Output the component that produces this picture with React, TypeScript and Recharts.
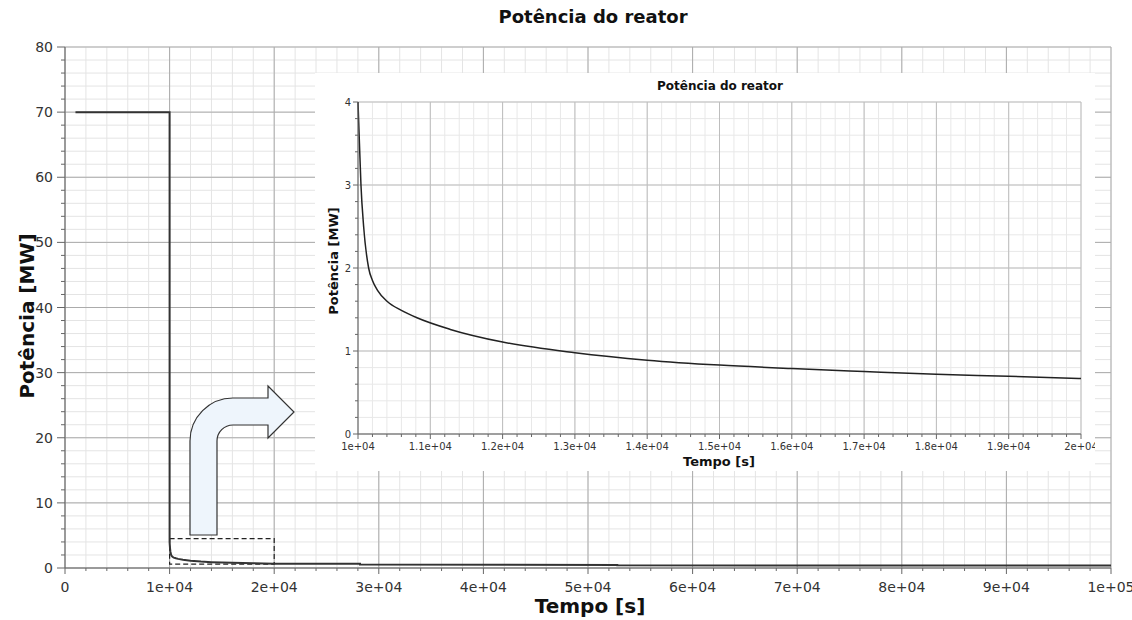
import {
  LineChart,
  Line,
  XAxis,
  YAxis,
  CartesianGrid,
  ReferenceArea,
} from 'recharts'

// decay after the scram (s, MW)
const decayTime = [
  10000, 10020, 10041, 10078, 10147, 10200, 10270, 10401, 10600, 10816,
  11277, 12000, 13000, 14000, 15000, 16000, 17000, 18000, 19000, 20000,
]
const decayPower = [
  4.0, 3.5, 3.0, 2.5, 2.0, 1.85, 1.73, 1.6, 1.49, 1.4,
  1.26, 1.108, 0.98, 0.89, 0.83, 0.788, 0.753, 0.72, 0.696, 0.668,
]

// full-power plateau before and slow tail after
const headTime = [1000, 10000]
const headPower = [70, 70]
const tailTime = [28200, 28200, 52800, 52800, 100000]
const tailPower = [0.64, 0.52, 0.47, 0.41, 0.38]

const mainXTicks = [0, 10000, 20000, 30000, 40000, 50000, 60000, 70000, 80000, 90000, 100000]
const mainYTicks = [0, 10, 20, 30, 40, 50, 60, 70, 80]
const insetXTicks = [10000, 11000, 12000, 13000, 14000, 15000, 16000, 17000, 18000, 19000, 20000]
const insetYTicks = [0, 1, 2, 3, 4]

const zoomBox = { x1: 10000, x2: 20000, y1: 0.6, y2: 4.5 }

const steps = (from: number, to: number, step: number) =>
  Array.from({ length: Math.round((to - from) / step) + 1 }, (_, i) => +(from + i * step).toFixed(4))

const mainXMinor = steps(0, 100000, 2000)
const mainYMinor = steps(0, 80, 2)
const insetXMinor = steps(10000, 20000, 200)
const insetYMinor = steps(0, 4, 0.2)

const mainData = [
  ...headTime.map((t, i) => ({ t, p: headPower[i] })),
  ...decayTime.map((t, i) => ({ t, p: decayPower[i] })),
  ...tailTime.map((t, i) => ({ t, p: tailPower[i] })),
]
const insetData = decayTime.map((t, i) => ({ t, p: decayPower[i] }))

const sci = (v: number) => {
  if (v === 0) return '0'
  const e = Math.floor(Math.log10(v) + 1e-9)
  const m = +(v / 10 ** e).toFixed(2)
  return `${m}e+${String(e).padStart(2, '0')}`
}

const near = (v: number, list: number[]) => list.some((m) => Math.abs(m - v) < 1e-6)

const axisColor = '#666'
const textColor = '#333'

function makeXTick(major: number[], big: number, small: number, fontSize: number, dy: number) {
  return (props: any) => {
    const { x, y, payload } = props
    const isMajor = near(payload.value, major)
    return (
      <g>
        <line x1={x} x2={x} y1={y} y2={y + (isMajor ? big : small)} stroke={axisColor} />
        {isMajor && (
          <text x={x} y={y + dy} textAnchor="middle" fontSize={fontSize} fill={textColor}>
            {sci(payload.value)}
          </text>
        )}
      </g>
    )
  }
}

function makeYTick(major: number[], big: number, small: number, fontSize: number, gap: number) {
  return (props: any) => {
    const { x, y, payload } = props
    const isMajor = near(payload.value, major)
    return (
      <g>
        <line x1={x - (isMajor ? big : small)} x2={x} y1={y} y2={y} stroke={axisColor} />
        {isMajor && (
          <text x={x - gap} y={y + fontSize * 0.36} textAnchor="end" fontSize={fontSize} fill={textColor}>
            {payload.value}
          </text>
        )}
      </g>
    )
  }
}

export default function App() {
  return (
    <div
      style={{
        position: 'relative',
        width: 1132,
        height: 620,
        background: '#fff',
        fontFamily: '"DejaVu Sans", sans-serif',
        color: '#111',
      }}
    >
      <style>{'body{margin:0}'}</style>

      <LineChart width={1132} height={620} data={mainData} margin={{ top: 47, right: 21, left: 0, bottom: 0 }}>
        <CartesianGrid stroke="#e4e4e4" verticalValues={mainXMinor} horizontalValues={mainYMinor} />
        <CartesianGrid stroke="#ababab" verticalValues={mainXTicks} horizontalValues={mainYTicks} />
        <XAxis
          dataKey="t"
          type="number"
          domain={[0, 100000]}
          ticks={mainXMinor}
          interval={0}
          height={52}
          tickSize={0}
          tickMargin={0}
          tickLine={false}
          stroke={axisColor}
          tick={makeXTick(mainXTicks, 6, 3, 14, 24)}
        />
        <YAxis
          type="number"
          domain={[0, 80]}
          ticks={mainYMinor}
          interval={0}
          width={65}
          tickSize={0}
          tickMargin={0}
          tickLine={false}
          stroke={axisColor}
          tick={makeYTick(mainYTicks, 8, 4, 14, 12)}
        />
        <ReferenceArea
          {...zoomBox}
          fill="none"
          stroke="#222"
          strokeWidth={1.2}
          strokeDasharray="5 3"
          ifOverflow="visible"
        />
        <Line
          type="linear"
          dataKey="p"
          stroke="#333"
          strokeWidth={2}
          dot={false}
          isAnimationActive={false}
        />
      </LineChart>

      {/* bent arrow pointing at the zoomed view */}
      <svg width={1132} height={620} style={{ position: 'absolute', left: 0, top: 0, pointerEvents: 'none' }}>
        <path
          d="M190,535 L190,441 A43,43 0 0 1 233,398 L268,398 L268,386 L294,412 L268,438 L268,425 L233,425 A16,16 0 0 0 217,441 L217,535 Z"
          fill="#eef5fc"
          stroke="#333"
          strokeWidth={1.2}
        />
      </svg>

      <div style={{ position: 'absolute', left: 393, top: 6, width: 400, textAlign: 'center', fontSize: 18, fontWeight: 700, lineHeight: 1.2 }}>
        Potência do reator
      </div>
      <div style={{ position: 'absolute', left: 390, top: 596, width: 400, textAlign: 'center', fontSize: 20, fontWeight: 700, lineHeight: 1 }}>
        Tempo [s]
      </div>
      <div
        style={{
          position: 'absolute',
          left: 27,
          top: 316,
          transform: 'translate(-50%, -50%) rotate(-90deg)',
          whiteSpace: 'nowrap',
          fontSize: 20,
          fontWeight: 700,
          lineHeight: 1,
        }}
      >
        Potência [MW]
      </div>

      {/* inset */}
      <div style={{ position: 'absolute', left: 315, top: 73, width: 780, height: 398, background: '#fff' }}>
        <LineChart width={780} height={398} data={insetData} margin={{ top: 29, right: 14, left: 0, bottom: 0 }}>
          <CartesianGrid stroke="#e8e8e8" verticalValues={insetXMinor} horizontalValues={insetYMinor} />
          <CartesianGrid stroke="#bdbdbd" verticalValues={insetXTicks} horizontalValues={insetYTicks} />
          <XAxis
            dataKey="t"
            type="number"
            domain={[10000, 20000]}
            ticks={insetXMinor}
            interval={0}
            height={37}
            tickSize={0}
            tickMargin={0}
            tickLine={false}
            stroke={axisColor}
            tick={makeXTick(insetXTicks, 5, 3, 10, 16)}
          />
          <YAxis
            type="number"
            domain={[0, 4]}
            ticks={insetYMinor}
            interval={0}
            width={43}
            tickSize={0}
            tickMargin={0}
            tickLine={false}
            stroke={axisColor}
            tick={makeYTick(insetYTicks, 5, 3, 10, 7)}
            allowDataOverflow
          />
          <Line
            type="monotone"
            dataKey="p"
            stroke="#222"
            strokeWidth={1.5}
            dot={false}
            isAnimationActive={false}
          />
        </LineChart>
        <div style={{ position: 'absolute', left: 205, top: 6, width: 400, textAlign: 'center', fontSize: 12, fontWeight: 700 }}>
          Potência do reator
        </div>
        <div style={{ position: 'absolute', left: 204, top: 381, width: 400, textAlign: 'center', fontSize: 13, fontWeight: 700 }}>
          Tempo [s]
        </div>
        <div
          style={{
            position: 'absolute',
            left: 18,
            top: 188,
            transform: 'translate(-50%, -50%) rotate(-90deg)',
            whiteSpace: 'nowrap',
            fontSize: 13,
            fontWeight: 700,
            lineHeight: 1,
          }}
        >
          Potência [MW]
        </div>
      </div>
    </div>
  )
}
